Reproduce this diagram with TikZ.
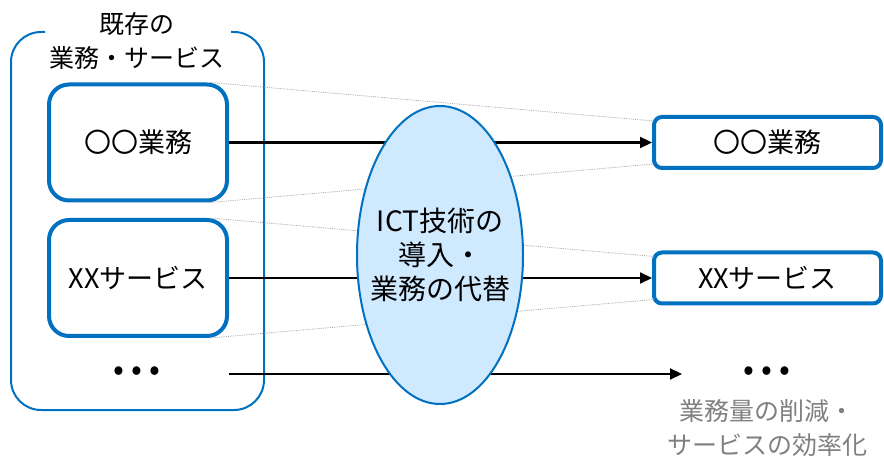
\documentclass[tikz,border=0pt]{standalone}
\usepackage{fontspec}
\setmainfont{Noto Sans CJK JP}
\usepackage{xcolor}
\definecolor{framecolor}{RGB}{0, 112, 192}
\definecolor{ictcolor}{RGB}{207, 233, 255}
\definecolor{notecolor}{RGB}{128, 128, 128}
\usepackage{tikz}
\usetikzlibrary{arrows.meta, calc, shapes.geometric}

\begin{document}
\begin{tikzpicture}[x=1pt, y=-1pt,
    every node/.style={font=\fontsize{25}{34}\selectfont, inner sep=0pt},
    workbox/.style={draw=framecolor, line width=4pt, rounded corners=20pt,
      minimum width=178pt, minimum height=116pt, font=\fontsize{27}{34}\selectfont},
    newbox/.style={draw=framecolor, line width=4pt, rounded corners=8pt,
      minimum width=227pt, minimum height=51pt, font=\fontsize{27}{34}\selectfont},
    dotrow/.style={font=\fontsize{32}{32}\selectfont},
    flow/.style={line width=2.2pt, -{Triangle[length=12pt,width=11pt]}},
    guide/.style={draw=notecolor!70, line width=0.8pt, densely dotted}]
  \useasboundingbox (0,0) rectangle (884,462);
  \draw[framecolor, line width=2pt, rounded corners=30pt]
    (45,32) -- (11,32) -- (11,410) -- (264,410) -- (264,32) -- (231,32);
  \node[align=center] (title) at (137,41) {既存の\\業務・サービス};
  \node[workbox] (work1) at (138,142.5) {〇〇業務};
  \node[workbox] (work2) at (138,278) {XXサービス};
  \node[dotrow] (dotsl) at (137,374) {• • •};
  \node[newbox] (new1) at (767.5,142.5) {〇〇業務};
  \node[newbox] (new2) at (767.5,278) {XXサービス};
  \node[dotrow] (dotsr) at (767,374) {• • •};
  \node[notecolor, align=center] (effect) at (767,428) {業務量の削減・\\サービスの効率化};
  \coordinate (from3) at (work2.east |- dotsl);
  \coordinate (to3) at (682,374);
  \draw[guide] ([xshift=-19pt]work1.north east) -- ([xshift=2pt,yshift=-6pt]new1.north west);
  \draw[guide] ([xshift=-19pt]work1.south east) -- ([xshift=2pt,yshift=6pt]new1.south west);
  \draw[guide] ([xshift=-19pt]work2.north east) -- ([xshift=2pt,yshift=-6pt]new2.north west);
  \draw[guide] ([xshift=-19pt]work2.south east) -- ([xshift=2pt,yshift=6pt]new2.south west);
  \draw[flow] (work1.east) -- (new1.west);
  \draw[flow] (work2.east) -- (new2.west);
  \draw[flow] (from3) -- (to3);
  \node[ellipse, draw=framecolor, fill=ictcolor, line width=2pt,
    inner xsep=-20pt, inner ysep=-20pt,
    minimum width=166pt, minimum height=298pt, align=center,
    font=\fontsize{28}{34}\selectfont] (ict) at (440,255)
    {ICT技術の\\導入・\\業務の代替};
\end{tikzpicture}
\end{document}
